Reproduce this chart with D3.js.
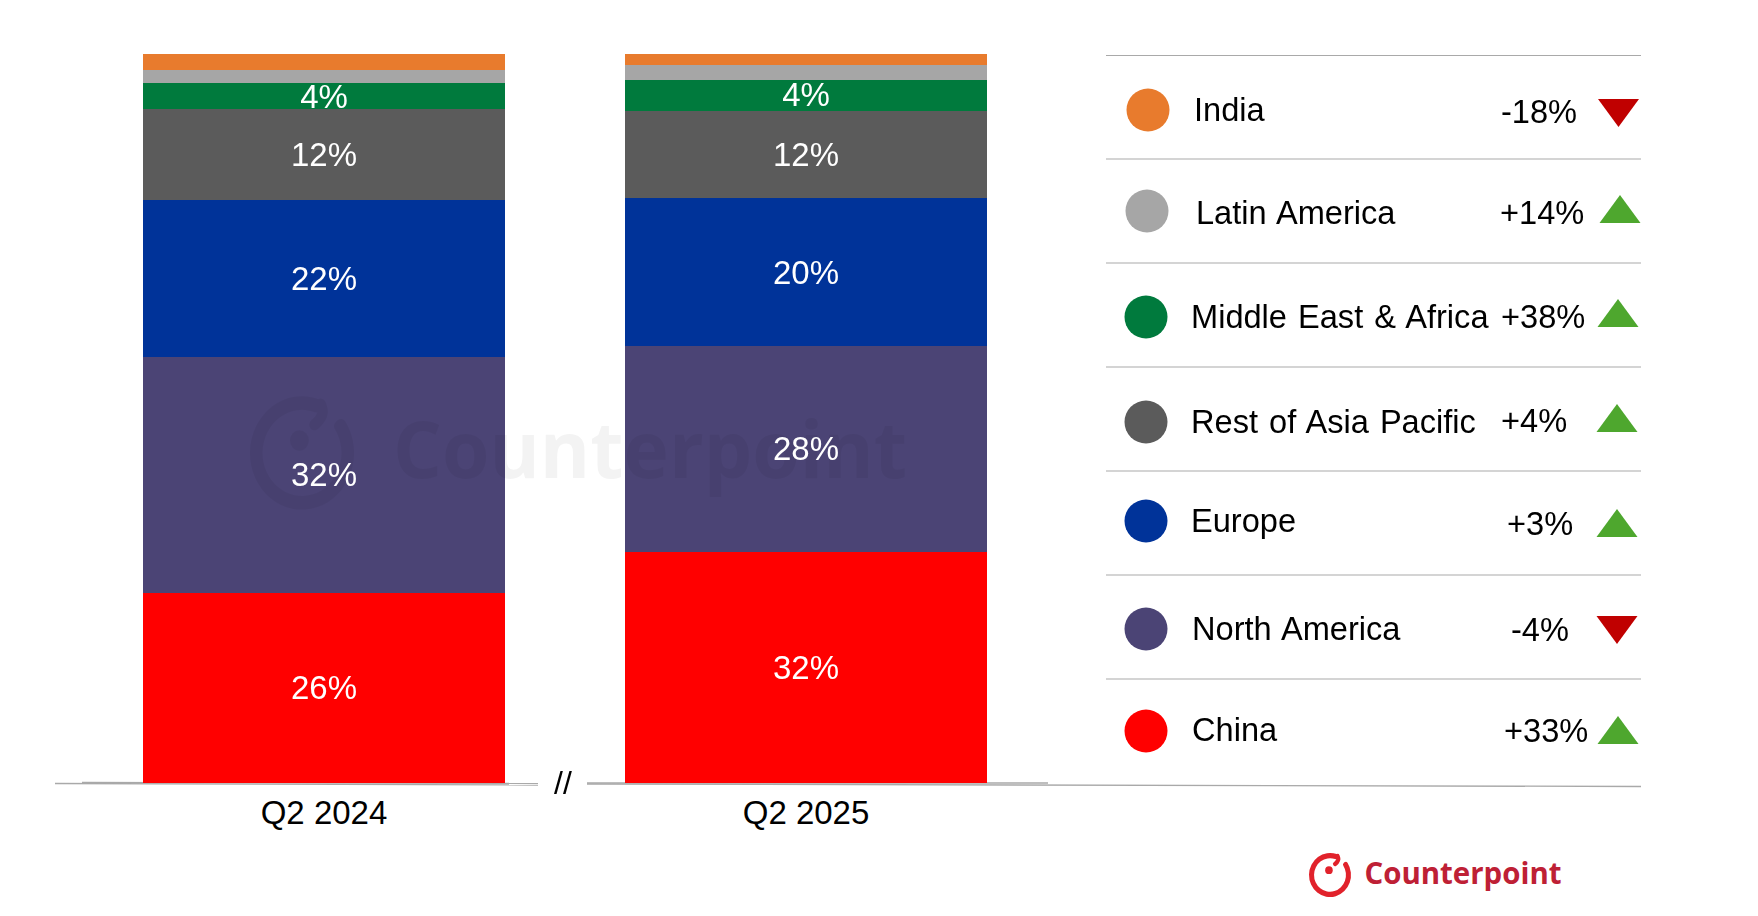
<!DOCTYPE html>
<html>
<head>
<meta charset="utf-8">
<title>Regional share Q2 2024 vs Q2 2025</title>
<script src="https://cdn.jsdelivr.net/npm/d3@7"></script>
<style>
	html, body { margin: 0; padding: 0; background: #fff; }
	svg { display: block; font-family: "Liberation Sans", Arial, sans-serif; }
</style>
</head>
<body>
<div id="chart"></div>
<script>
// stacked from the bottom up
var quarters = ["Q2 2024", "Q2 2025"];
var regions = ["China", "North America", "Europe", "Rest of Asia Pacific", "Middle East & Africa", "Latin America", "India"];
var share2024 = [26.1, 32.3, 21.6, 12.4, 3.6, 1.8, 2.2];
var share2025 = [31.7, 28.2, 20.3, 12.0, 4.3, 2.0, 1.5];
var regionColors = ["#ff0000", "#4b4475", "#003399", "#5b5b5b", "#007a3d", "#a6a6a6", "#e87b2d"];
var unlabeled = ["Latin America", "India"];

// legend runs top down
var legendOrder = ["India", "Latin America", "Middle East & Africa", "Rest of Asia Pacific", "Europe", "North America", "China"];
var growthLabels = ["-18%", "+14%", "+38%", "+4%", "+3%", "-4%", "+33%"];

var W = 1758, H = 916;
var BAR_LEFT = 143, BAR_RIGHT = 987, BAR_TOP = 54, BAR_BOTTOM = 783;
var LEGEND_LEFT = 1106, LEGEND_RIGHT = 1641;
var GREEN = "#4ea72e", DARKRED = "#c00000", RULE = "#a9a9a9";

// the legend was placed by hand on the slide, so every row is a bit off the grid
var legendNudge = [
	{ dotX : 1148, dotY : 3, textX : 1194, textY : 14, pctX : 1501, pctY : 16, triX : 1618.5, triY : 6 },
	{ dotX : 1147, dotY : 0, textX : 1196, textY : 13, pctX : 1500, pctY : 13, triX : 1620, triY : -2 },
	{ dotX : 1146, dotY : 2, textX : 1191, textY : 13, pctX : 1501, pctY : 13, triX : 1618, triY : -2 },
	{ dotX : 1146, dotY : 3, textX : 1191, textY : 14, pctX : 1501, pctY : 13, triX : 1617, triY : -1 },
	{ dotX : 1146, dotY : -2, textX : 1191, textY : 9, pctX : 1507, pctY : 12, triX : 1617, triY : 0 },
	{ dotX : 1146, dotY : 2, textX : 1192, textY : 13, pctX : 1511, pctY : 14, triX : 1617, triY : 3 },
	{ dotX : 1146, dotY : 0, textX : 1192, textY : 10, pctX : 1504, pctY : 11, triX : 1618, triY : -1 }
];

var svg = d3.select("#chart").append("svg")
	.attr("width", W)
	.attr("height", H);

var table = quarters.map(function(q, i){
	var row = { quarter : q };
	var values = i == 0 ? share2024 : share2025;
	regions.forEach(function(r, j){
		row[r] = values[j];
	});
	return row;
});

var series = d3.stack()
	.keys(regions)
	.offset(d3.stackOffsetExpand)(table);

var x = d3.scaleBand()
	.domain(quarters)
	.range([BAR_LEFT, BAR_RIGHT])
	.paddingInner(0.249)
	.paddingOuter(0);

var y = d3.scaleLinear()
	.domain([0, 1])
	.range([BAR_BOTTOM, BAR_TOP]);

var color = d3.scaleOrdinal()
	.domain(regions)
	.range(regionColors);

// baseline, broken at the // mark. it's a bit crooked in the original too
var baseLines = [
	[55, 783.5, 538, 785],
	[82, 782.5, 538, 783.5],
	[587, 783, 1048, 783],
	[587, 784, LEGEND_RIGHT, 786.5]
];
svg.append("g").selectAll("line")
	.data(baseLines)
	.enter().append("line")
	.attr("x1", function(d){ return d[0]; })
	.attr("y1", function(d){ return d[1]; })
	.attr("x2", function(d){ return d[2]; })
	.attr("y2", function(d){ return d[3]; })
	.attr("stroke", RULE)
	.attr("stroke-width", 1.3);

// bars
var layer = svg.append("g").selectAll("g")
	.data(series)
	.enter().append("g")
	.attr("fill", function(d){ return color(d.key); });

layer.selectAll("rect")
	.data(function(d){ return d; })
	.enter().append("rect")
	.attr("x", function(d){ return x(d.data.quarter); })
	.attr("y", function(d){ return y(d[1]); })
	.attr("width", x.bandwidth())
	.attr("height", function(d){ return y(d[0]) - y(d[1]); })
	.attr("shape-rendering", "crispEdges");

// watermark sits over the bars but under the labels
var mark = svg.append("g").attr("opacity", 0.05);
drawLogo(mark, 302, 453, 52, "#000", 1.09);
mark.append("text")
	.attr("x", 393)
	.attr("y", 478)
	.attr("textLength", 514)
	.attr("lengthAdjust", "spacingAndGlyphs")
	.style("font-family", "'Open Sans', sans-serif")
	.style("font-weight", 700)
	.style("font-size", "78px")
	.text("Counterpoint");

// value labels
series.forEach(function(s){
	if(unlabeled.indexOf(s.key) >= 0){
		return;
	}
	svg.append("g").selectAll("text")
		.data(s)
		.enter().append("text")
		.attr("x", function(d){ return x(d.data.quarter) + x.bandwidth() / 2; })
		.attr("y", function(d){ return (y(d[0]) + y(d[1])) / 2; })
		.attr("dy", "0.34em")
		.attr("text-anchor", "middle")
		.attr("fill", "#fff")
		.style("font-size", "33px")
		.text(function(d){ return Math.round(d.data[s.key]) + "%"; });
});

// category axis
var axis = svg.append("g")
	.attr("transform", "translate(0," + BAR_BOTTOM + ")")
	.call(d3.axisBottom(x).tickSize(0).tickPadding(18));
axis.select(".domain").remove();
axis.selectAll("text")
	.attr("fill", "#000")
	.style("font-family", "'Liberation Sans', Arial, sans-serif")
	.style("font-size", "33px");

svg.append("text")
	.attr("x", 563)
	.attr("y", 794)
	.attr("text-anchor", "middle")
	.attr("fill", "#000")
	.style("font-size", "32px")
	.text("//");

// legend table
var row = d3.scaleBand()
	.domain(legendOrder)
	.range([55, 783]);

svg.append("g").selectAll("line")
	.data(legendOrder.slice(0, 6).concat(["top"]))
	.enter().append("line")
	.attr("x1", LEGEND_LEFT)
	.attr("x2", LEGEND_RIGHT)
	.attr("y1", function(d){ return d == "top" ? 55.5 : row(d) + row.bandwidth(); })
	.attr("y2", function(d){ return d == "top" ? 55.5 : row(d) + row.bandwidth(); })
	.attr("stroke", RULE)
	.attr("stroke-width", 1.2);

legendOrder.forEach(function(name, i){
	var n = legendNudge[i];
	var mid = row(name) + row.bandwidth() / 2;
	var up = growthLabels[i].charAt(0) == "+";

	svg.append("ellipse")
		.attr("cx", n.dotX)
		.attr("cy", mid + n.dotY)
		.attr("rx", 21.5)
		.attr("ry", 21.5)
		.attr("fill", color(name));

	svg.append("text")
		.attr("x", n.textX)
		.attr("y", mid + n.textY)
		.attr("fill", "#000")
		.style("font-size", "32.6px")
		.style("word-spacing", "2px")
		.text(name);

	svg.append("text")
		.attr("x", n.pctX)
		.attr("y", mid + n.pctY)
		.attr("fill", "#000")
		.style("font-size", "32.6px")
		.text(growthLabels[i]);

	var tip = up ? -14 : 14;
	var triangle = d3.line()([[-20.5, -tip], [20.5, -tip], [0, tip]]) + "Z";
	svg.append("path")
		.attr("d", triangle)
		.attr("transform", "translate(" + n.triX + "," + (mid + n.triY) + ")")
		.attr("fill", up ? GREEN : DARKRED);
});

// footer logo
var logo = svg.append("g");
drawLogo(logo, 1330, 875, 21, "#e1222b", 1.05);
logo.append("text")
	.attr("x", 1364.5)
	.attr("y", 884)
	.attr("textLength", 197)
	.attr("lengthAdjust", "spacingAndGlyphs")
	.attr("fill", "#be2035")
	.style("font-family", "'Open Sans', sans-serif")
	.style("font-weight", 700)
	.style("font-size", "30px")
	.text("Counterpoint");

function drawLogo(g, cx, cy, R, fill, stretch){
	var deg = Math.PI / 180;
	var wrap = g.append("g").attr("transform", "translate(" + cx + "," + cy + ") scale(1," + stretch + ")");
	// main ring, open at the upper right
	wrap.append("path")
		.attr("d", d3.arc()
			.innerRadius(R * 0.76)
			.outerRadius(R)
			.cornerRadius(R * 0.1)
			.startAngle(50 * deg)
			.endAngle(385 * deg)())
		.attr("fill", fill);
	// hook at the top end of the ring
	wrap.append("path")
		.attr("d", d3.line().curve(d3.curveBasis)([
			[R * 0.36, -R * 0.86],
			[R * 0.42, -R * 0.72],
			[R * 0.34, -R * 0.58],
			[R * 0.24, -R * 0.5]
		]))
		.attr("fill", "none")
		.attr("stroke", fill)
		.attr("stroke-width", R * 0.2)
		.attr("stroke-linecap", "round");
	wrap.append("circle")
		.attr("cx", -R * 0.05)
		.attr("cy", -R * 0.22)
		.attr("r", R * 0.18)
		.attr("fill", fill);
}
</script>
</body>
</html>
